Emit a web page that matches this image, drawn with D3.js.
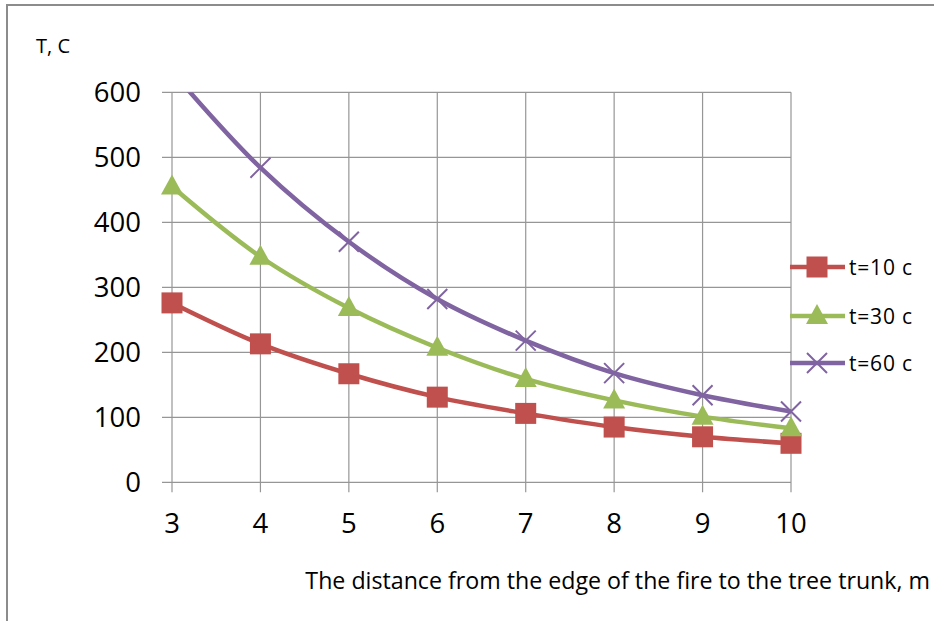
<!DOCTYPE html>
<html><head><meta charset="utf-8">
<script src="https://cdn.jsdelivr.net/npm/d3@7"></script>
<style>body{margin:0;background:#fff;} svg{display:block;}</style>
</head><body>
<svg id="c" width="934" height="621"></svg>
<script>
const distances = [3, 4, 5, 6, 7, 8, 9, 10];
const t10 = [276, 213, 167, 131, 106, 85, 70, 60];
const t30 = [455, 347, 268, 207, 159, 126, 101, 83];
const t60 = [632, 484, 370, 282, 218, 168, 134, 109];
const seriesNames = ["t=10 c", "t=30 c", "t=60 c"];
const yTicks = [0, 100, 200, 300, 400, 500, 600];
const xTitle = "The distance from the edge of the fire to the tree trunk, m";
const yTitle = "T, C";

const colors = ["#C0504D", "#9BBB59", "#8064A2"];
const markers = ["square", "triangle", "x"];
const series = [t10, t30, t60].map((v, i) => ({name: seriesNames[i], values: v, color: colors[i], marker: markers[i]}));

const svg = d3.select("#c");
const font = "'Open Sans', sans-serif";
const L = 172, R = 791, T = 92.3, B = 482.3;
const x = d3.scaleLinear().domain([3, 10]).range([L, R]);
const y = d3.scaleLinear().domain([0, 600]).range([B, T]);

// frame
svg.append("rect").attr("x", 7).attr("y", 5).attr("width", 960).attr("height", 700)
  .attr("fill", "none").attr("stroke", "#8c8c8c").attr("stroke-width", 2);

// grid
const g = svg.append("g");
g.selectAll(".hg").data(yTicks).join("line")
  .attr("x1", L - 10).attr("x2", R).attr("y1", d => y(d)).attr("y2", d => y(d))
  .attr("stroke", "#969696").attr("stroke-width", 1.2);
g.selectAll(".vg").data(distances).join("line")
  .attr("x1", d => x(d)).attr("x2", d => x(d)).attr("y1", T).attr("y2", B + 10)
  .attr("stroke", "#969696").attr("stroke-width", 1.2);

// tick labels
g.selectAll(".yl").data(yTicks).join("text")
  .attr("x", 141).attr("y", d => y(d)).attr("dy", "0.36em").attr("text-anchor", "end")
  .attr("font-family", font).attr("font-size", 27.5).attr("fill", "#000").text(d => d);
g.selectAll(".xl").data(distances).join("text")
  .attr("x", d => x(d)).attr("y", 533).attr("text-anchor", "middle")
  .attr("font-family", font).attr("font-size", 27.5).attr("fill", "#000").text(d => d);

svg.append("text").attr("x", 930).attr("y", 589).attr("text-anchor", "end")
  .attr("font-family", font).attr("font-size", 23.2).attr("fill", "#000").text(xTitle);
svg.append("text").attr("x", 36).attr("y", 53)
  .attr("font-family", font).attr("font-size", 20).attr("fill", "#000").text(yTitle);

// clip
svg.append("clipPath").attr("id", "clip").append("rect")
  .attr("x", L - 20).attr("y", T).attr("width", R - L + 40).attr("height", B - T + 20);

const line = d3.line().x((d, i) => x(distances[i])).y(d => y(d)).curve(d3.curveCatmullRom.alpha(0.5));

function drawMarker(sel, type, color, cx, cy) {
  if (type === "square") {
    sel.append("rect").attr("x", cx - 10.5).attr("y", cy - 10.5).attr("width", 21).attr("height", 21)
      .attr("fill", color);
  } else if (type === "triangle") {
    sel.append("path").attr("d", `M${cx},${cy - 12} L${cx + 11},${cy + 8} L${cx - 11},${cy + 8} Z`)
      .attr("fill", color);
  } else {
    sel.append("path").attr("d", `M${cx - 10},${cy - 10} L${cx + 10},${cy + 10} M${cx + 10},${cy - 10} L${cx - 10},${cy + 10}`)
      .attr("stroke", color).attr("stroke-width", 2).attr("fill", "none");
  }
}

const plot = svg.append("g").attr("clip-path", "url(#clip)");
series.forEach(s => {
  plot.append("path").attr("d", line(s.values)).attr("fill", "none")
    .attr("stroke", s.color).attr("stroke-width", 4.5);
  s.values.forEach((v, i) => {
    if (v <= 600) drawMarker(plot, s.marker, s.color, x(distances[i]), y(v));
  });
});

// legend
const legY = [267, 316, 363];
series.forEach((s, i) => {
  const lg = svg.append("g");
  lg.append("line").attr("x1", 790).attr("x2", 845).attr("y1", legY[i]).attr("y2", legY[i])
    .attr("stroke", s.color).attr("stroke-width", 4.5);
  drawMarker(lg, s.marker, s.color, 817, legY[i]);
  lg.append("text").attr("x", 849).attr("y", legY[i]).attr("dy", "0.36em")
    .attr("font-family", font).attr("font-size", 21).attr("fill", "#000")
    .attr("textLength", 63).attr("lengthAdjust", "spacing").text(s.name);
});
</script>
</body></html>
